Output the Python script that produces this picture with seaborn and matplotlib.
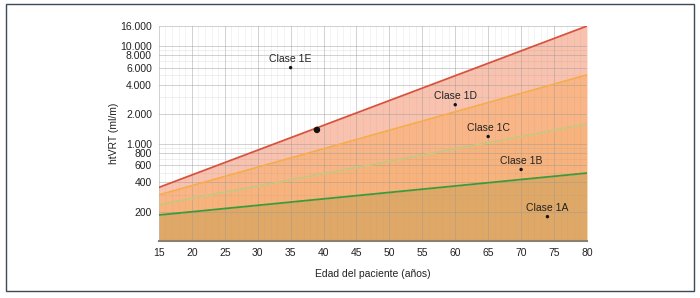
import matplotlib
matplotlib.use("Agg")
import matplotlib.pyplot as plt
import matplotlib.ticker as mticker
import seaborn as sns
import pandas as pd

sns.set_theme(style="white")
plt.rcParams['font.family'] = ['Liberation Sans', 'DejaVu Sans']

ages = [15, 80]
line_red = [355, 16000]
line_orange = [297, 5050]
line_lightgreen = [236, 1580]
line_green = [185, 498]
y_floor = 100

point_labels = ["Clase 1E", "Clase 1D", "Clase 1C", "Clase 1B", "Clase 1A"]
point_x = [35, 60, 65, 70, 74]
point_y = [6000, 2500, 1180, 542, 178]
big_point_x = [39]
big_point_y = [1380]

yticks = [200, 400, 600, 800, 1000, 2000, 4000, 6000, 8000, 10000, 16000]
ytick_labels = ["200", "400", "600", "800", "1.000", "2.000", "4.000", "6.000", "8.000", "10.000", "16.000"]
xticks = list(range(15, 81, 5))

fig = plt.figure(figsize=(7, 2.98), dpi=100)
ax = fig.add_axes([0.227, 0.191, 0.6115, 0.7215])

# frame around figure
frame = plt.Rectangle((6/700, 1-291/298), 688/700, 287/298, transform=fig.transFigure,
                      fill=False, edgecolor="#3c4a55", linewidth=1.0)
fig.patches.append(frame)

ax.set_yscale("log")
ax.set_xlim(15, 80)
ax.set_ylim(y_floor, 16000)

# fills
floor = [y_floor, y_floor]
ax.fill_between(ages, floor, line_green, color="#dfa866", lw=0, zorder=0.5)
ax.fill_between(ages, line_green, line_lightgreen, color="#f8b27b", lw=0, zorder=0.5)
ax.fill_between(ages, line_lightgreen, line_orange, color="#f9b585", lw=0, zorder=0.5)
ax.fill_between(ages, line_orange, line_red, color="#f9c2ae", lw=0, zorder=0.5)

df = pd.DataFrame({"edad": ages * 4,
                   "v": line_red + line_orange + line_lightgreen + line_green,
                   "s": ["r"] * 2 + ["o"] * 2 + ["lg"] * 2 + ["g"] * 2})
pal = {"r": "#d8533e", "o": "#f6ab4c", "lg": "#c9c57f", "g": "#3d9a3a"}
sns.lineplot(data=df, x="edad", y="v", hue="s", palette=pal, ax=ax, legend=False,
             linewidth=1.3, zorder=3)

sns.scatterplot(x=point_x, y=point_y, ax=ax, color="#111111", s=6, edgecolor="none", zorder=4)
sns.scatterplot(x=big_point_x, y=big_point_y, ax=ax, color="#111111", s=22, edgecolor="none", zorder=4)
for lx, ly, lt in zip(point_x, point_y, point_labels):
    ax.annotate(lt, (lx, ly), xytext=(0, 2.5), textcoords="offset points", ha="center",
                va="bottom", fontsize=7.5, color="#222222", zorder=5)

# grid
ax.set_xticks(xticks)
ax.xaxis.set_minor_locator(mticker.MultipleLocator(1))
ax.set_yticks(yticks)
ax.set_yticklabels(ytick_labels)
ax.yaxis.set_minor_locator(mticker.LogLocator(base=10, subs=[1, 2, 3, 4, 5, 6, 7, 8, 9]))
ax.yaxis.set_minor_formatter(mticker.NullFormatter())
ax.grid(which="major", color="#9a9a9a", alpha=0.45, linewidth=0.7)
ax.grid(which="minor", axis="y", color="#9a9a9a", alpha=0.22, linewidth=0.5)
ax.grid(which="minor", axis="x", color="#9a9a9a", alpha=0.16, linewidth=0.5)
for gl in ax.get_xgridlines() + ax.get_ygridlines():
    gl.set_zorder(1)

for sp in ["top", "right", "left"]:
    ax.spines[sp].set_visible(False)
ax.spines["bottom"].set_color("#8a7f70")
ax.spines["bottom"].set_linewidth(1.5)
ax.spines["bottom"].set_zorder(3)
ax.tick_params(axis="both", which="both", length=0, labelsize=7.5, colors="#222222", pad=5)
ax.set_axisbelow(False)

ax.set_xlabel("Edad del paciente (años)", fontsize=7.5, color="#222222", labelpad=8)
ax.set_ylabel("htVRT (ml/m)", fontsize=7.5, color="#222222", labelpad=1)

fig.savefig("out.png", dpi=100)
